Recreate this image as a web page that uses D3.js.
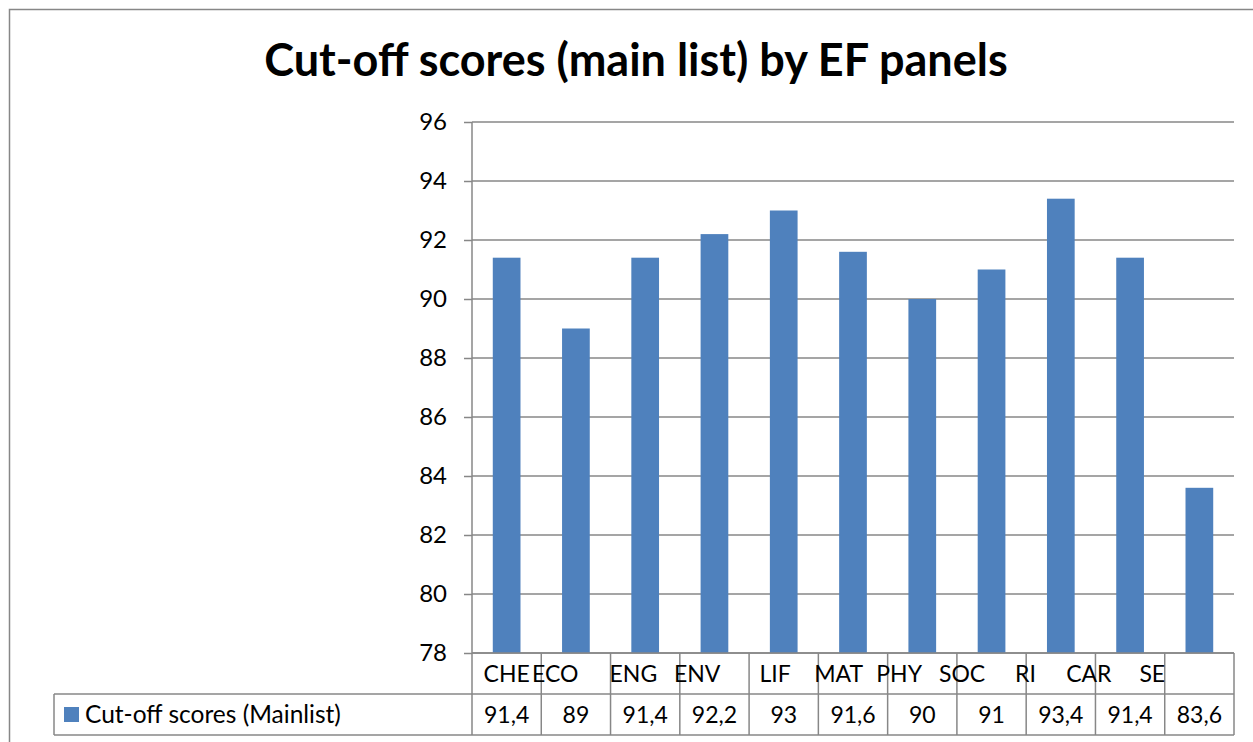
<!DOCTYPE html>
<html>
<head>
<meta charset="utf-8">
<script src="https://cdn.jsdelivr.net/npm/d3@7"></script>
<style>
  body { margin: 0; background: #fff; }
  svg { font-family: Lato, "Open Sans", sans-serif; }
  text { white-space: pre; }
</style>
</head>
<body>
<div id="chart"></div>
<script>
// data
const panels = ["CHE", "ECO", "ENG", "ENV", "LIF", "MAT", "PHY", "SOC", "RI", "CAR", "SE"];
// axis labels as they appear in the source sheet (trailing blanks push them left)
const panelLabels = ["CHE", "ECO       ", "ENG    ", "ENV      ", "LIF   ", "MAT     ",
    "PHY        ", "SOC          ", "RI            ", "CAR              ", "SE                "];
const scores = [91.4, 89, 91.4, 92.2, 93, 91.6, 90, 91, 93.4, 91.4, 83.6];
const yTicks = [78, 80, 82, 84, 86, 88, 90, 92, 94, 96];
const seriesName = "Cut-off scores (Mainlist)";
const title = "Cut-off scores (main list) by EF panels";

const width = 1253;
const height = 742;
const plot = { left: 472, right: 1234, top: 122, bottom: 653 };
const rowH = 41;
const legendLeft = 54;
const gridColor = "#878787";
const barColor = "#4F81BD";

const locale = d3.formatLocale({ decimal: ",", thousands: ".", grouping: [3], currency: ["", ""] });
const fmt = locale.format(".1~f");

const svg = d3.select("#chart").append("svg")
    .attr("width", width)
    .attr("height", height);

// outer chart border
svg.append("rect")
    .attr("x", 9.5).attr("y", 9.5)
    .attr("width", width + 20).attr("height", height + 20)
    .attr("fill", "none")
    .attr("stroke", gridColor)
    .attr("stroke-width", 1.5);

svg.append("text")
    .attr("x", 636).attr("y", 76)
    .attr("text-anchor", "middle")
    .style("font-size", "45px")
    .style("font-weight", "bold")
    .text(title);

const x = d3.scaleBand()
    .domain(panels)
    .range([plot.left, plot.right])
    .paddingInner(0).paddingOuter(0);

const y = d3.scaleLinear()
    .domain([78, 96])
    .range([plot.bottom, plot.top]);

// gridlines
svg.append("g")
    .selectAll("line")
    .data(yTicks)
    .join("line")
    .attr("x1", plot.left).attr("x2", plot.right)
    .attr("y1", d => y(d)).attr("y2", d => y(d))
    .attr("stroke", gridColor)
    .attr("stroke-width", 1.5);

// y axis
const yAxis = svg.append("g")
    .attr("transform", `translate(${plot.left},0)`)
    .call(d3.axisLeft(y).tickValues(yTicks).tickSize(8).tickPadding(17).tickFormat(d3.format("d")));
yAxis.select(".domain").remove();
yAxis.selectAll(".tick line").attr("stroke", gridColor).attr("stroke-width", 1.5);
yAxis.selectAll(".tick text")
    .attr("fill", "#000")
    .style("font-size", "24px")
    .style("font-family", "Lato, sans-serif");

// bars
const barW = x.bandwidth() * 0.4;
svg.append("g")
    .selectAll("rect")
    .data(scores)
    .join("rect")
    .attr("x", (d, i) => x(panels[i]) + (x.bandwidth() - barW) / 2)
    .attr("y", d => y(d))
    .attr("width", barW)
    .attr("height", d => y(78) - y(d))
    .attr("fill", barColor);

// data table
const table = svg.append("g")
    .attr("stroke", gridColor)
    .attr("stroke-width", 1.5)
    .attr("fill", "none");

// vertical axis line runs through the table
table.append("line")
    .attr("x1", plot.left).attr("x2", plot.left)
    .attr("y1", plot.top).attr("y2", plot.bottom + 2 * rowH);

table.append("line")
    .attr("x1", plot.left).attr("x2", plot.right)
    .attr("y1", plot.bottom).attr("y2", plot.bottom);

table.selectAll(".hrow")
    .data([1, 2])
    .join("line")
    .attr("x1", legendLeft).attr("x2", plot.right)
    .attr("y1", d => plot.bottom + d * rowH).attr("y2", d => plot.bottom + d * rowH);

table.append("line")
    .attr("x1", legendLeft).attr("x2", legendLeft)
    .attr("y1", plot.bottom + rowH).attr("y2", plot.bottom + 2 * rowH);

table.selectAll(".vcol")
    .data(panels)
    .join("line")
    .attr("x1", d => x(d) + x.bandwidth()).attr("x2", d => x(d) + x.bandwidth())
    .attr("y1", plot.bottom).attr("y2", plot.bottom + 2 * rowH);

// category labels
svg.append("g")
    .selectAll("text")
    .data(panels)
    .join("text")
    .attr("x", d => x(d) + x.bandwidth() / 2)
    .attr("y", plot.bottom + rowH / 2)
    .attr("dy", "0.35em")
    .attr("text-anchor", "middle")
    .style("font-size", "23px")
    .text((d, i) => panelLabels[i]);

// values row
svg.append("g")
    .selectAll("text")
    .data(scores)
    .join("text")
    .attr("x", (d, i) => x(panels[i]) + x.bandwidth() / 2)
    .attr("y", plot.bottom + rowH * 1.5)
    .attr("dy", "0.35em")
    .attr("text-anchor", "middle")
    .style("font-size", "23px")
    .text(d => fmt(d));

// legend key in the table
svg.append("rect")
    .attr("x", 64).attr("y", plot.bottom + rowH * 1.5 - 7.5)
    .attr("width", 15).attr("height", 15)
    .attr("fill", barColor);

svg.append("text")
    .attr("x", 85)
    .attr("y", plot.bottom + rowH * 1.5)
    .attr("dy", "0.35em")
    .style("font-size", "24.5px")
    .text(seriesName);
</script>
</body>
</html>
